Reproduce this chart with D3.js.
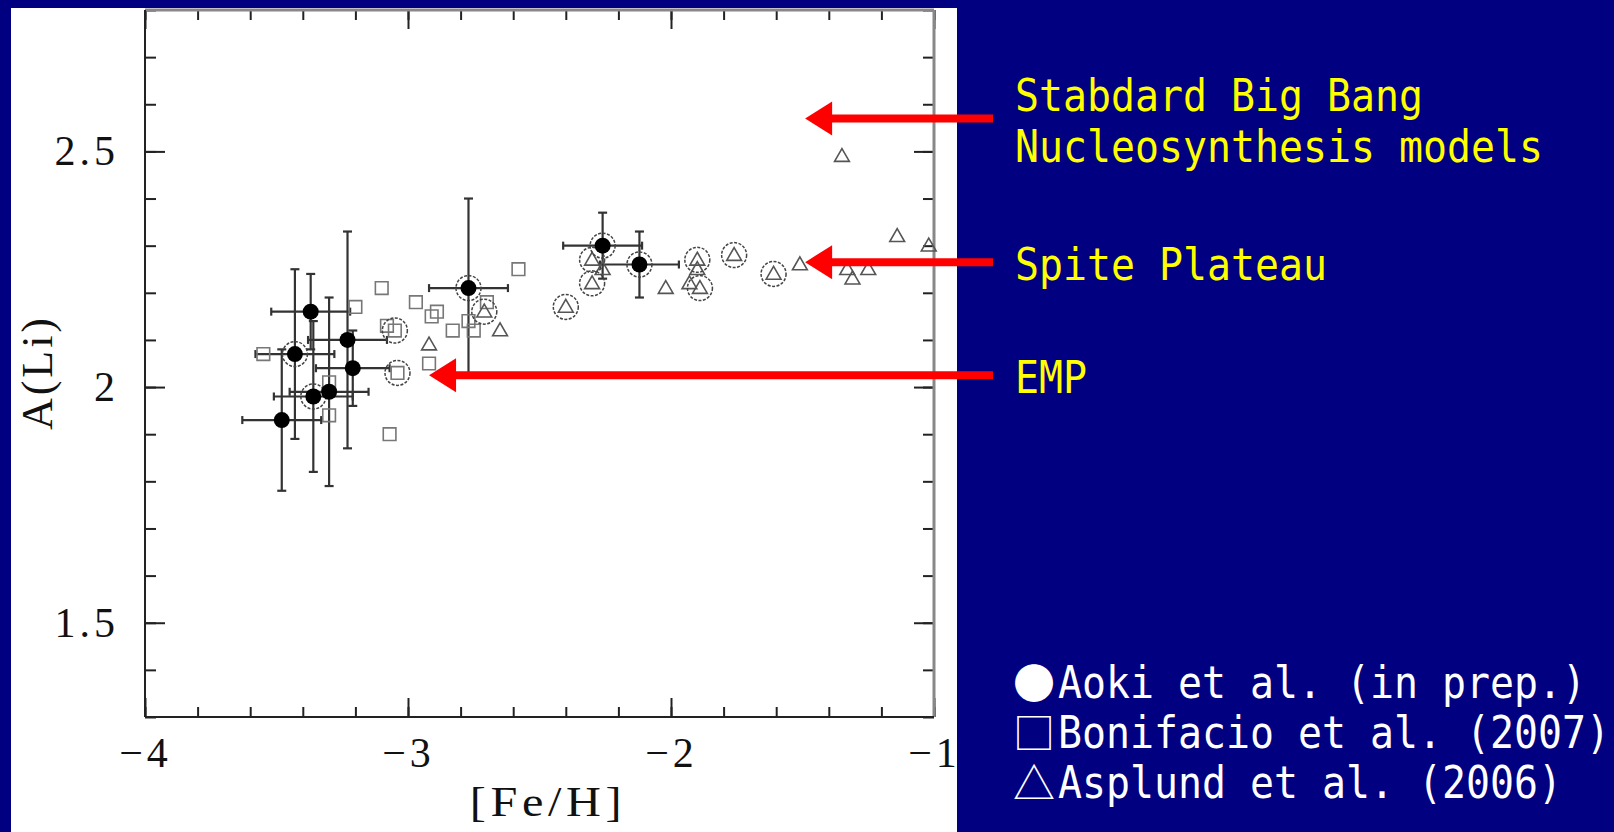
<!DOCTYPE html>
<html>
<head>
<meta charset="utf-8">
<script src="https://cdn.jsdelivr.net/npm/d3@7"></script>
<style>
html, body { margin: 0; padding: 0; background: #000080; }
svg { display: block; }
</style>
</head>
<body>
<svg id="chart" width="1614" height="832"></svg>
<script>
// Aoki et al. (in prep.) : [Fe/H], A(Li), errors, circled or not
var aokiFeH  = [-3.48, -3.43, -3.37, -3.36, -3.30, -3.23, -3.21, -2.77, -2.26, -2.12];
var aokiALi  = [ 1.93,  2.07,  2.16,  1.98,  1.99,  2.10,  2.04,  2.21,  2.30,  2.26];
var aokiErrX = [ 0.15,  0.15,  0.15,  0.15,  0.15,  0.15,  0.14,  0.15,  0.15,  0.15];
var aokiErrY = [ 0.15,  0.18,  0.08,  0.16,  0.20,  0.23,  0.08,  0.19,  0.07,  0.07];
var aokiRing = [ 0, 1, 0, 1, 0, 0, 0, 1, 1, 1];

// Bonifacio et al. (2007)
var bonFeH  = [-3.55, -3.30, -3.30, -3.20, -3.10, -3.08, -3.05, -3.07, -3.04, -2.97, -2.91, -2.89, -2.92, -2.83, -2.77, -2.75, -2.70, -2.58];
var bonALi  = [ 2.07,  2.01,  1.94,  2.17,  2.21,  2.13,  2.12,  1.90,  2.03,  2.18,  2.15,  2.16,  2.05,  2.12,  2.14,  2.12,  2.18,  2.25];
var bonRing = [ 0, 0, 0, 0, 0, 0, 1, 0, 1, 0, 0, 0, 0, 0, 0, 0, 0, 0];

// Asplund et al. (2006)
var aspFeH  = [-2.92, -2.71, -2.65, -2.40, -2.30, -2.30, -2.26, -2.02, -1.90, -1.90, -1.93, -1.89, -1.76, -1.61, -1.51, -1.33, -1.31, -1.25, -1.14, -1.02, -1.35];
var aspALi  = [ 2.09,  2.16,  2.12,  2.17,  2.27,  2.22,  2.25,  2.21,  2.27,  2.25,  2.22,  2.21,  2.28,  2.24,  2.26,  2.25,  2.23,  2.25,  2.32,  2.30,  2.49];
var aspRing = [ 0, 1, 0, 1, 1, 1, 0, 0, 1, 0, 0, 1, 1, 1, 0, 0, 0, 0, 0, 0, 0];

// axes
var xTicks = [-4, -3, -2, -1];
var yTicks = [1.5, 2, 2.5];
var xTitle = "[Fe/H]";
var yTitle = "A(Li)";

// arrows + notes (arrow tip given in data units)
var noteLines = [["Stabdard Big Bang", "Nucleosynthesis models"], ["Spite Plateau"], ["EMP"]];
var noteFeH = [-1.49, -1.49, -2.92];
var noteALi = [2.57, 2.265, 2.025];

// legend
var legendMark = ["\u25CF", "\u25A1", "\u25B3"];
var legendText = ["Aoki et al. (in prep.)", "Bonifacio et al. (2007)", "Asplund et al. (2006)"];

////////////////////////////////////////////////////////////
var svg = d3.select("#chart");
var serif = "'Liberation Serif', 'DejaVu Serif', serif";
var mono = "'DejaVu Sans Mono', 'Liberation Mono', monospace";
var monoSize = 45;
var charW = 24;                              // half-width cell of the slide font
var squeeze = charW / (monoSize * 0.602);    // DejaVu Sans Mono advance = 0.602em
var textX = 1015;

svg.append("rect").attr("width", 1614).attr("height", 832).attr("fill", "#000080");
svg.append("defs").append("clipPath").attr("id", "panel")
    .append("rect").attr("x", 11).attr("y", 8).attr("width", 946).attr("height", 824);
svg.append("rect").attr("x", 11).attr("y", 8).attr("width", 946).attr("height", 824).attr("fill", "#fff");

var panel = svg.append("g").attr("clip-path", "url(#panel)");

var x = d3.scaleLinear().domain([-4, -1]).range([145, 934]);
var y = d3.scaleLinear().domain([1.3, 2.8]).range([717, 10]);
var fmt = d3.format("~g");

// ticks on all four sides, pointing inward
function ticks(axis, tx, ty, values, len, labels, pad) {
    var g = panel.append("g").attr("transform", "translate(" + tx + "," + ty + ")")
        .call(axis.tickValues(values).tickSize(-len).tickPadding(pad || 0)
            .tickFormat(labels ? fmt : ""));
    g.select(".domain").remove();
    g.selectAll("line").attr("stroke", "#222").attr("stroke-width", 2);
    g.attr("font-family", serif).attr("font-size", 42);
    g.selectAll("text").attr("fill", "#111").attr("letter-spacing", 4);
    return g;
}
ticks(d3.axisBottom(x), 0, 717, x.ticks(15), 10);
ticks(d3.axisTop(x), 0, 10, x.ticks(15), 10);
ticks(d3.axisLeft(y), 145, 0, y.ticks(15), 11);
ticks(d3.axisRight(y), 934, 0, y.ticks(15), 11);
ticks(d3.axisBottom(x), 0, 717, xTicks, 19, true, 20);
ticks(d3.axisTop(x), 0, 10, xTicks, 19);
ticks(d3.axisLeft(y), 145, 0, yTicks, 20, true, 26);
ticks(d3.axisRight(y), 934, 0, yTicks, 20);

// frame: top/right lighter
panel.append("line").attr("x1", 145).attr("x2", 934).attr("y1", 10).attr("y2", 10)
    .attr("stroke", "#888").attr("stroke-width", 3);
panel.append("line").attr("x1", 934).attr("x2", 934).attr("y1", 10).attr("y2", 717)
    .attr("stroke", "#888").attr("stroke-width", 3);
panel.append("line").attr("x1", 145).attr("x2", 934).attr("y1", 717).attr("y2", 717)
    .attr("stroke", "#222").attr("stroke-width", 2);
panel.append("line").attr("x1", 145).attr("x2", 145).attr("y1", 10).attr("y2", 717)
    .attr("stroke", "#222").attr("stroke-width", 2);

// axis titles (CM letters are wide: stretch a little)
panel.append("text").attr("transform", "translate(548,816) scale(1.15,1)").attr("text-anchor", "middle")
    .attr("font-family", serif).attr("font-size", 42).attr("fill", "#111")
    .attr("letter-spacing", 4).text(xTitle);
panel.append("text").attr("transform", "translate(52,374) rotate(-90)").attr("text-anchor", "middle")
    .attr("font-family", serif).attr("font-size", 44).attr("fill", "#111")
    .attr("textLength", 112).attr("lengthAdjust", "spacing").text(yTitle);

// data prep
var aoki = aokiFeH.map(function (d, i) {
    return { x: d, y: aokiALi[i], ex: aokiErrX[i], ey: aokiErrY[i], ring: aokiRing[i] };
});
var bon = bonFeH.map(function (d, i) { return { x: d, y: bonALi[i], ring: bonRing[i] }; });
var asp = aspFeH.map(function (d, i) { return { x: d, y: aspALi[i], ring: aspRing[i] }; });

var plot = panel.append("g");

// error bars
var bars = plot.selectAll("g.err").data(aoki).enter().append("g").attr("class", "err")
    .attr("stroke", "#333").attr("stroke-width", 2.2);
bars.append("line")
    .attr("x1", function (d) { return x(d.x); }).attr("x2", function (d) { return x(d.x); })
    .attr("y1", function (d) { return y(d.y - d.ey); }).attr("y2", function (d) { return y(d.y + d.ey); });
bars.append("line")
    .attr("x1", function (d) { return x(d.x - d.ex); }).attr("x2", function (d) { return x(d.x + d.ex); })
    .attr("y1", function (d) { return y(d.y); }).attr("y2", function (d) { return y(d.y); });
[-1, 1].forEach(function (s) {
    bars.append("line")
        .attr("x1", function (d) { return x(d.x) - 4.5; }).attr("x2", function (d) { return x(d.x) + 4.5; })
        .attr("y1", function (d) { return y(d.y + s * d.ey); }).attr("y2", function (d) { return y(d.y + s * d.ey); });
    bars.append("line")
        .attr("x1", function (d) { return x(d.x + s * d.ex); }).attr("x2", function (d) { return x(d.x + s * d.ex); })
        .attr("y1", function (d) { return y(d.y) - 4; }).attr("y2", function (d) { return y(d.y) + 4; });
});

// open squares
plot.selectAll("path.sq").data(bon).enter().append("path").attr("class", "sq")
    .attr("d", d3.symbol(d3.symbolSquare).size(160))
    .attr("transform", function (d) { return "translate(" + x(d.x) + "," + y(d.y) + ")"; })
    .attr("fill", "none").attr("stroke", "#777").attr("stroke-width", 1.6);

// open triangles
plot.selectAll("path.tri").data(asp).enter().append("path").attr("class", "tri")
    .attr("d", d3.symbol(d3.symbolTriangle).size(95))
    .attr("transform", function (d) { return "translate(" + x(d.x) + "," + (y(d.y) + 1) + ")"; })
    .attr("fill", "none").attr("stroke", "#555").attr("stroke-width", 1.6);

// rings around stars in common
var ringed = aoki.concat(bon, asp).filter(function (d) { return d.ring; });
plot.selectAll("circle.ring").data(ringed).enter().append("circle").attr("class", "ring")
    .attr("cx", function (d) { return x(d.x); }).attr("cy", function (d) { return y(d.y); })
    .attr("r", 12.5).attr("fill", "none").attr("stroke", "#444")
    .attr("stroke-width", 1.5).attr("stroke-dasharray", "3,1.5");

// filled circles
plot.selectAll("circle.aoki").data(aoki).enter().append("circle").attr("class", "aoki")
    .attr("cx", function (d) { return x(d.x); }).attr("cy", function (d) { return y(d.y); })
    .attr("r", 8).attr("fill", "#000");

// narrow monospace text, like the slide's gothic font
function monoText(t, tx, ty, color) {
    return svg.append("text")
        .attr("transform", "translate(" + tx + "," + ty + ") scale(" + squeeze + ",1)")
        .attr("font-family", mono).attr("font-size", monoSize).attr("fill", color)
        .text(t);
}

// red arrows + yellow notes
var tailX = 993;
noteLines.forEach(function (lines, i) {
    var tx = x(noteFeH[i]), ty = y(noteALi[i]);
    svg.append("line").attr("x1", tx + 26).attr("x2", tailX).attr("y1", ty).attr("y2", ty)
        .attr("stroke", "#ff0000").attr("stroke-width", 8);
    svg.append("path")
        .attr("d", "M" + tx + "," + ty + "L" + (tx + 27) + "," + (ty - 17) + "L" + (tx + 27) + "," + (ty + 17) + "Z")
        .attr("fill", "#ff0000");
    lines.forEach(function (t, j) {
        monoText(t, textX, ty + 18 - (lines.length - 1) * 25.5 + j * 51, "#ffff00");
    });
});

// legend: marks are full-width glyphs, all in one column element
var markCell = 2 * charW - 6;
var legendY = function (i) { return 698 + i * 50; };
var markCol = svg.append("text")
    .attr("font-family", "'Noto Sans CJK JP', sans-serif").attr("font-size", 44).attr("fill", "#fff");
legendMark.forEach(function (m, i) {
    var ts = markCol.append("tspan").attr("x", textX - 2).attr("y", legendY(i) + 1).text(m);
    var w = ts.node().getComputedTextLength();
    if (w > markCell) ts.attr("font-size", 44 * markCell / w);
});
legendText.forEach(function (t, i) {
    monoText(t, textX + markCell + 1, legendY(i), "#fff");
});
</script>
</body>
</html>
